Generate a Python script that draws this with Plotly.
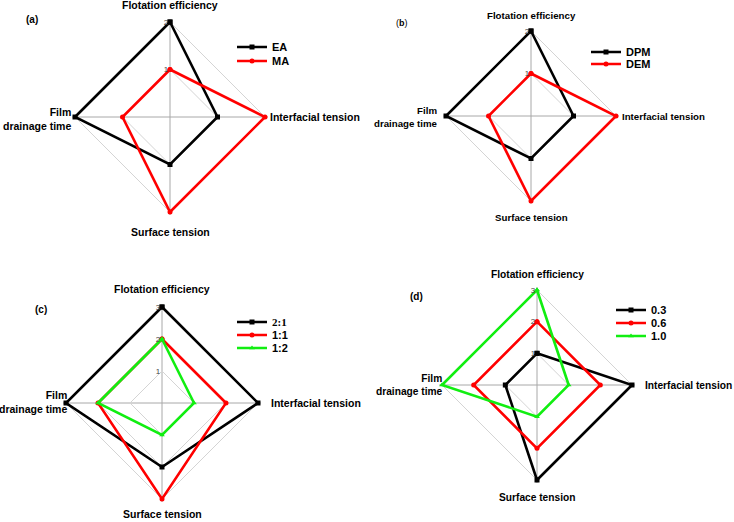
import plotly.graph_objects as go

W, H = 734, 522

categories = ["Flotation efficiency", "Interfacial tension", "Surface tension", "Film drainage time"]
cat_labels = ["Flotation efficiency", "Interfacial tension", "Surface tension", "Film<br>drainage time"]

a_EA = [2, 1, 1, 2]
a_MA = [1, 2, 2, 1]
b_DPM = [2, 1, 1, 2]
b_DEM = [1, 2, 2, 1]
c_21 = [3, 3, 2, 3]
c_11 = [2, 2, 3, 2]
c_12 = [2, 1, 1, 2]
d_03 = [1, 3, 3, 1]
d_06 = [2, 2, 2, 2]
d_10 = [3, 1, 1, 3]

BLACK, RED, GREEN = "#000000", "#ff0000", "#11ee11"
SANS = "Arial, Liberation Sans, sans-serif"
SERIF = "Times New Roman, Liberation Serif, serif"
PAD = 1.03  # radial headroom so lines on the outer ring are not clipped

# panel layout in pixels: center x, center y, radius of the max ring, radial max, label font size
panels = {
    "a": dict(cx=170, cy=117, R=95, rmax=2, fs=10.5,
              top=5, bottom=232, right=268, left=73, lefty=119,
              tag=("<b>(a)</b>", 32, 20, 10)),
    "b": dict(cx=531, cy=116, R=85, rmax=2, fs=9.7,
              top=15, bottom=218, right=620, left=440, lefty=117,
              tag=("(<b>b</b>)", 402, 23, 9)),
    "c": dict(cx=162, cy=403, R=96, rmax=3, fs=10.5,
              top=289, bottom=514, right=269, left=69, lefty=402,
              tag=("<b>(c)</b>", 41, 309, 10)),
    "d": dict(cx=537, cy=385, R=95, rmax=3, fs=10.2,
              top=274, bottom=497, right=643, left=445, lefty=385,
              tag=("<b>(d)</b>", 416, 296, 10)),
}

series = [
    # panel, name, values, color, symbol, legend line end x, legend row y, font
    ("a", "EA", a_EA, BLACK, "square", 267, 47, SANS),
    ("a", "MA", a_MA, RED, "circle", 267, 61, SANS),
    ("b", "DPM", b_DPM, BLACK, "square", 621, 52, SANS),
    ("b", "DEM", b_DEM, RED, "circle", 621, 64, SANS),
    ("c", "2:1", c_21, BLACK, "square", 267, 322, SERIF),
    ("c", "1:1", c_11, RED, "circle", 267, 335, SANS),
    ("c", "1:2", c_12, GREEN, "triangle-up", 267, 348, SANS),
    ("d", "0.3", d_03, BLACK, "square", 646, 310, SANS),
    ("d", "0.6", d_06, RED, "circle", 646, 323, SANS),
    ("d", "1.0", d_10, GREEN, "triangle-up", 646, 336, SANS),
]

fig = go.Figure()
polar_ids = {}
for i, key in enumerate(panels):
    polar_ids[key] = "polar" if i == 0 else f"polar{i + 1}"

layout = dict(width=W, height=H, margin=dict(l=0, r=0, t=0, b=0),
              paper_bgcolor="white", plot_bgcolor="white", showlegend=True)

for key, p in panels.items():
    Rd = p["R"] * PAD
    x0 = (p["cx"] - Rd) / W
    x1 = (p["cx"] + Rd) / W
    y0 = 1 - (p["cy"] + Rd) / H
    y1 = 1 - (p["cy"] - Rd) / H
    layout[polar_ids[key]] = dict(
        domain=dict(x=[x0, x1], y=[y0, y1]),
        gridshape="linear",
        bgcolor="white",
        radialaxis=dict(range=[0, p["rmax"] * PAD], tickvals=list(range(1, p["rmax"] + 1)),
                        angle=90, side="counterclockwise", showline=False,
                        ticks="", gridcolor="#d4d4d4", gridwidth=1, tickangle=90,
                        tickfont=dict(family=SANS, size=8, color="#444444")),
        angularaxis=dict(categoryorder="array", categoryarray=categories,
                         rotation=90, direction="clockwise",
                         showticklabels=False, ticks="",
                         gridcolor="#a8a8a8", gridwidth=1,
                         showline=False),
    )

for idx, (key, name, vals, color, sym, lx, ly, fam) in enumerate(series):
    lg = "legend" if idx == 0 else f"legend{idx + 1}"
    fig.add_trace(go.Scatterpolar(
        r=vals + [vals[0]], theta=categories + [categories[0]],
        mode="lines+markers", name=name, cliponaxis=False,
        line=dict(color=color, width=2.6),
        marker=dict(color=color, symbol=sym, size=5),
        subplot=polar_ids[key], legend=lg,
    ))
    layout[lg] = dict(x=(lx - 35) / W, y=1 - ly / H, xanchor="left", yanchor="middle",
                      bgcolor="rgba(0,0,0,0)", borderwidth=0, itemwidth=30,
                      font=dict(family=fam, size=11, color="black", weight="bold"))

annotations = []
for key, p in panels.items():
    fs = p["fs"]
    f = dict(family=SANS, size=fs, color="black")
    annotations.append(dict(text="<b>%s</b>" % cat_labels[0], x=p["cx"] / W, y=1 - p["top"] / H,
                            xanchor="center", yanchor="middle", showarrow=False, font=f))
    annotations.append(dict(text="<b>%s</b>" % cat_labels[1], x=p["right"] / W, y=1 - p["cy"] / H,
                            xanchor="left", yanchor="middle", showarrow=False, font=f))
    annotations.append(dict(text="<b>%s</b>" % cat_labels[2], x=p["cx"] / W, y=1 - p["bottom"] / H,
                            xanchor="center", yanchor="middle", showarrow=False, font=f))
    annotations.append(dict(text="<b>%s</b>" % cat_labels[3].replace("<br>", "</b><br><b>"),
                            x=p["left"] / W, y=1 - p["lefty"] / H,
                            xanchor="right", yanchor="middle", align="right",
                            showarrow=False, font=f))
    t, tx, ty, ts = p["tag"]
    annotations.append(dict(text=t, x=tx / W, y=1 - ty / H, xanchor="center", yanchor="middle",
                            showarrow=False, font=dict(family=SANS, size=ts, color="black")))

for a in annotations:
    a["xref"] = "paper"
    a["yref"] = "paper"
layout["annotations"] = annotations

fig.update_layout(**layout)
fig.write_html("out.html", config={"displayModeBar": False},
               post_script="document.body.style.margin='0';")
